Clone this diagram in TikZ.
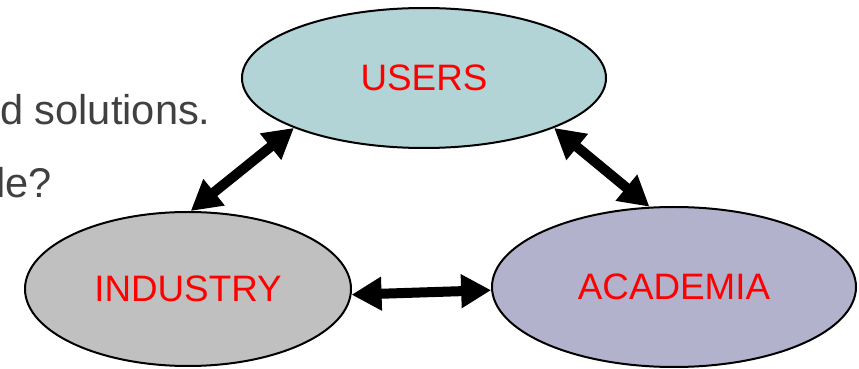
\documentclass[tikz,border=0pt]{standalone}
\usepackage{xcolor}
\usepackage{tikz}
\usepackage{fontspec}
\setmainfont{Liberation Sans}
\usetikzlibrary{shapes,shapes.geometric,positioning,calc,arrows.meta}

\definecolor{usersfill}{HTML}{B2D4D6}
\definecolor{industryfill}{HTML}{C0C0C0}
\definecolor{academiafill}{HTML}{B2B2CC}
\definecolor{slidetext}{HTML}{404040}

\tikzset{
    party/.style={ellipse, draw=black, line width=1pt, inner sep=0pt,
        text=red, font=\fontsize{18.4}{22}\selectfont},
    link/.style={line width=5pt,
        {Triangle[length=15pt,width=16pt]}-{Triangle[length=15pt,width=16pt]}},
    bullet/.style={text=slidetext, inner sep=0pt, font=\fontsize{20.8}{25}\selectfont}
}

\begin{document}
\begin{tikzpicture}[x=0.5pt, y=-0.5pt]
    \useasboundingbox (0,0) rectangle (859,369);

    % Slide text behind
    \node[bullet, anchor=base east] (line1) at (211,125) {d solutions.};
    \node[bullet, anchor=base east] (line2) at (52,198) {le?};

    % The three parties
    \node[party, fill=usersfill, minimum width=182pt, minimum height=70pt] (users) at (424,78) {USERS};
    \node[party, fill=industryfill, minimum width=163pt, minimum height=77pt] (industry) at (188,289) {INDUSTRY};
    \node[party, fill=academiafill, minimum width=182pt, minimum height=80pt] (academia) at (674,287) {ACADEMIA};

    % Links
    \draw[link] (users.201) -- (industry.88);
    \draw[link] (users.339) -- (academia.107);
    \draw[link] (industry.358) -- (academia.181);
\end{tikzpicture}
\end{document}
